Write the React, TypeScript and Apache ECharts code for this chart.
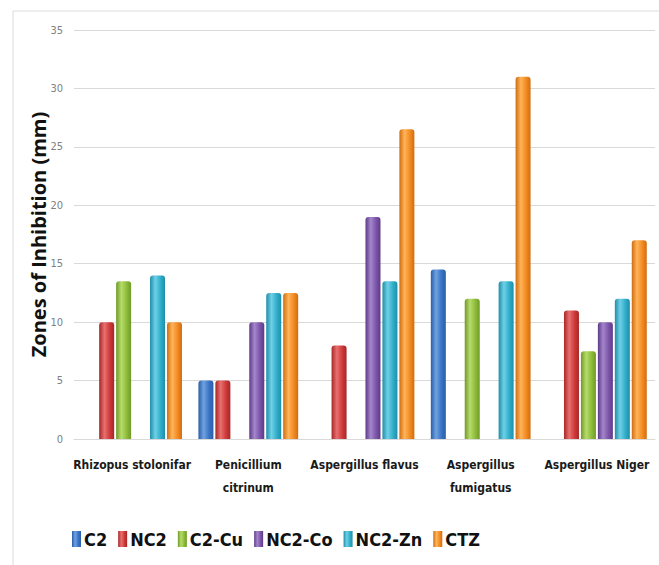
import React, { useEffect, useRef } from "react";
import * as echarts from "echarts";

const categories = [
  "Rhizopus stolonifar",
  "Penicillium\ncitrinum",
  "Aspergillus flavus",
  "Aspergillus\nfumigatus",
  "Aspergillus Niger",
];

const seriesNames = ["C2", "NC2", "C2-Cu", "NC2-Co", "NC2-Zn", "CTZ"];

const c2 = [0, 5, 0, 14.5, 0];
const nc2 = [10, 5, 8, 0, 11];
const c2Cu = [13.5, 0, 0, 12, 7.5];
const nc2Co = [0, 10, 19, 0, 10];
const nc2Zn = [14, 12.5, 13.5, 13.5, 12];
const ctz = [10, 12.5, 26.5, 31, 17];

const yTicks = [0, 5, 10, 15, 20, 25, 30, 35];

// [edge, highlight, base] shades per series for the cylinder look
const palette: [string, string, string][] = [
  ["#2a5ea8", "#6fa2e0", "#3a74c4"],
  ["#a82626", "#e87070", "#cf3a3a"],
  ["#6f9a28", "#b6dc6a", "#8fbc3c"],
  ["#5d3a88", "#a486cc", "#7d55a9"],
  ["#1f8ea8", "#6fd0e6", "#31aecb"],
  ["#d06d10", "#ffb45a", "#f38b22"],
];

const values = [c2, nc2, c2Cu, nc2Co, nc2Zn, ctz];

const NARROW = "'Liberation Sans Narrow', 'DejaVu Sans Condensed', 'Liberation Sans', sans-serif";

export default function App() {
  const ref = useRef<HTMLDivElement>(null);

  useEffect(() => {
    if (!ref.current) return;
    const chart = echarts.init(ref.current, null, { renderer: "svg" });

    const series = seriesNames.map((name, i) => {
      const [edge, hi, base] = palette[i];
      return {
        name,
        type: "bar",
        barWidth: 15,
        barGap: "13%",
        data: values[i].map((v) => (v === 0 ? null : v)),
        itemStyle: {
          borderRadius: [3, 3, 0, 0],
          color: new echarts.graphic.LinearGradient(0, 0, 1, 0, [
            { offset: 0, color: edge },
            { offset: 0.35, color: hi },
            { offset: 0.7, color: base },
            { offset: 1, color: edge },
          ]),
        },
      };
    });

    chart.setOption({
      animation: false,
      color: palette.map((p) => p[2]),
      graphic: [
        {
          type: "rect",
          shape: { x: 13, y: 11, width: 700, height: 600 },
          style: { fill: "none", stroke: "#dcdcdc", lineWidth: 1 },
          silent: true,
        },
      ],
      grid: { left: 74, right: 4, top: 30, bottom: 126, containLabel: false },
      legend: {
        data: seriesNames,
        left: 67,
        top: 525,
        icon: "rect",
        itemWidth: 9,
        itemHeight: 16,
        itemGap: 11,
        textStyle: {
          fontFamily: NARROW,
          fontWeight: "bold",
          fontSize: 18,
          color: "#111",
          padding: [0, 0, 0, -2],
        },
      },
      xAxis: {
        type: "category",
        data: categories,
        axisLine: { show: true, lineStyle: { color: "#d9d9d9" } },
        axisTick: { show: false },
        axisLabel: {
          interval: 0,
          margin: 14,
          fontFamily: NARROW,
          fontWeight: "bold",
          fontSize: 12,
          lineHeight: 23,
          color: "#1a1a1a",
        },
      },
      yAxis: {
        type: "value",
        min: 0,
        max: 35,
        interval: 5,
        name: "Zones of Inhibition (mm)",
        nameLocation: "middle",
        nameGap: 26,
        nameMoveOverlap: false,
        nameTextStyle: {
          fontFamily: "'Open Sans', 'Liberation Sans', sans-serif",
          fontWeight: "bold",
          fontSize: 20,
          color: "#111",
        },
        axisLine: { show: false },
        axisTick: { show: false },
        splitLine: { lineStyle: { color: "#d9d9d9", width: 1 } },
        axisLabel: {
          margin: 11,
          fontFamily: NARROW,
          fontSize: 11,
          color: "#808080",
          formatter: (v: number) => (yTicks.includes(v) ? String(v) : ""),
        },
      },
      series,
    });

    return () => chart.dispose();
  }, []);

  return (
    <div
      ref={ref}
      style={{ position: "fixed", left: 0, top: 0, width: 659, height: 565, background: "#fff" }}
    />
  );
}
